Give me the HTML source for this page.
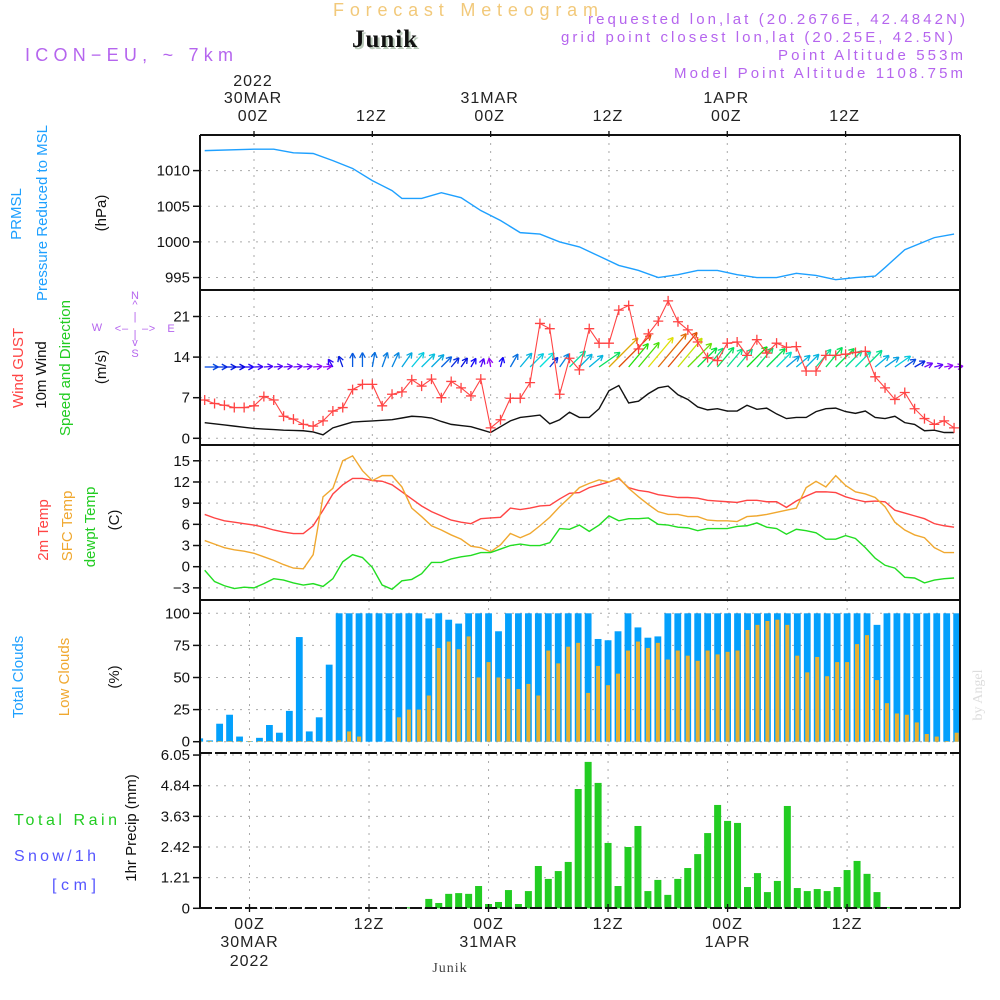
<!DOCTYPE html>
<html><head><meta charset="utf-8"><title>Forecast Meteogram - Junik</title>
<style>
html,body{margin:0;padding:0;background:#fff;width:1000px;height:1000px;overflow:hidden}
svg{display:block}
text{font-family:"Liberation Sans",sans-serif}
.tick{font-size:15px;fill:#111;text-anchor:end}
.tl{font-size:16px;fill:#222;text-anchor:middle;letter-spacing:1px}
.grid{stroke:#aaa;stroke-width:1;stroke-dasharray:2,6}
</style></head>
<body>
<svg id="chart" width="1000" height="1000" viewBox="0 0 1000 1000" xmlns="http://www.w3.org/2000/svg">
<!-- header -->
<text x="333" y="16" font-size="18" fill="#f2c97a" textLength="265" lengthAdjust="spacing">Forecast Meteogram</text>
<text x="354" y="49" font-size="25" font-weight="bold" fill="#b9c9b9" style="font-family:'Liberation Serif',serif" letter-spacing="1">Junik</text>
<text x="352" y="47" font-size="25" font-weight="bold" fill="#111" style="font-family:'Liberation Serif',serif" letter-spacing="1">Junik</text>
<text x="25" y="61" font-size="18" fill="#b565ee" textLength="208" lengthAdjust="spacing">ICON−EU, ~ 7km</text>
<text x="965" y="24" font-size="15" fill="#b565ee" text-anchor="end" textLength="377" lengthAdjust="spacing">requested lon,lat (20.2676E, 42.4842N)</text>
<text x="953" y="42" font-size="15" fill="#b565ee" text-anchor="end" textLength="392" lengthAdjust="spacing">grid point closest lon,lat (20.25E, 42.5N)</text>
<text x="963" y="60" font-size="15" fill="#b565ee" text-anchor="end" textLength="185" lengthAdjust="spacing">Point Altitude 553m</text>
<text x="963" y="78" font-size="15" fill="#b565ee" text-anchor="end" textLength="289" lengthAdjust="spacing">Model Point Altitude 1108.75m</text>

<!-- left labels -->
<g font-size="15">
<text transform="translate(21,214) rotate(-90)" text-anchor="middle" fill="#1ea0ff">PRMSL</text>
<text transform="translate(47,213) rotate(-90)" text-anchor="middle" fill="#1ea0ff">Pressure  Reduced to MSL</text>
<text transform="translate(106,213) rotate(-90)" text-anchor="middle" fill="#111">(hPa)</text>
<text transform="translate(23,368) rotate(-90)" text-anchor="middle" fill="#ff4444">Wind GUST</text>
<text transform="translate(46,375) rotate(-90)" text-anchor="middle" fill="#111">10m Wind</text>
<text transform="translate(70,368) rotate(-90)" text-anchor="middle" fill="#22cc22">Speed and Direction</text>
<text transform="translate(106,367) rotate(-90)" text-anchor="middle" fill="#111">(m/s)</text>
<text transform="translate(48,530) rotate(-90)" text-anchor="middle" fill="#ff4444">2m Temp</text>
<text transform="translate(72,526) rotate(-90)" text-anchor="middle" fill="#f0a830">SFC Temp</text>
<text transform="translate(95,527) rotate(-90)" text-anchor="middle" fill="#22cc22">dewpt Temp</text>
<text transform="translate(119,520) rotate(-90)" text-anchor="middle" fill="#111">(C)</text>
<text transform="translate(23,677) rotate(-90)" text-anchor="middle" fill="#1ea0ff">Total Clouds</text>
<text transform="translate(69,677) rotate(-90)" text-anchor="middle" fill="#f0a830">Low Clouds</text>
<text transform="translate(119,677) rotate(-90)" text-anchor="middle" fill="#111">(%)</text>
<text transform="translate(136,828) rotate(-90)" text-anchor="middle" fill="#111">1hr Precip (mm)</text>
</g>
<text x="14" y="825" font-size="16" fill="#22cc22" textLength="103" lengthAdjust="spacing">Total  Rain</text>
<text x="14" y="861" font-size="16" fill="#5555ff" textLength="82" lengthAdjust="spacing">Snow/1h</text>
<text x="52" y="890" font-size="16" fill="#5555ff" textLength="44" lengthAdjust="spacing">[cm]</text>
<!-- compass -->
<g fill="#b565ee" font-size="11" text-anchor="middle">
<text x="135" y="299">N</text><text x="135" y="308">^</text>
<text x="135" y="320">|</text><text x="135" y="338">|</text>
<text x="118" y="332">&lt;</text><text x="125" y="332">–</text><text x="145" y="332">–</text><text x="152" y="332">&gt;</text>
<text x="97" y="331">W</text><text x="171" y="332">E</text>
<text x="135" y="346">v</text><text x="135" y="357">S</text>
</g>
<text transform="translate(982,695) rotate(-90)" font-size="14" fill="#ddd" text-anchor="middle" style="font-family:'Liberation Serif',serif">by Angel</text>
<text x="450" y="972" font-size="14" fill="#444" text-anchor="middle" style="font-family:'Liberation Serif',serif" letter-spacing="1">Junik</text>

<g id="layer"></g>
</svg>
<script>
// ---------- data ----------
const pressHours = [-5,0,2,4,6,8,10,12,14,15,17,19,21,23,25,27,29,31,33,35,37,39,41,43,45,47,49,51,53,55,57,59,61,63,64,66,69,71];
const pressure = [1012.8,1013,1013,1012.5,1012.4,1011.4,1010.3,1008.6,1007.2,1006.1,1006.1,1006.9,1006.2,1004.4,1003,1001.3,1001.1,1000,999.3,998,996.7,996,995,995.4,996,996,995.4,995,995,995.6,995.3,994.7,995,995.2,996.4,998.9,1000.6,1001.1];
const pressTicks = [1010,1005,1000,995];
const gust = [6.6,6.0,5.7,5.3,5.3,5.6,7.2,6.6,3.8,3.3,2.4,2.1,3.0,4.7,5.3,8.4,9.3,9.3,5.6,7.6,8.0,10.1,9.0,10.2,7.0,9.8,8.7,7.3,10.2,1.8,3.2,6.9,6.9,9.6,19.8,18.9,7.6,13.8,11.8,18.9,16.4,16.4,22.1,22.9,15.4,18.0,20.2,23.7,20.1,18.7,16.6,13.9,13.4,16.4,16.6,14.3,17.0,14.7,16.4,15.7,15.8,11.6,11.6,14.3,14.3,14.5,14.8,15.0,10.6,8.7,6.7,7.9,5.1,3.4,2.4,3.0,1.8];
const windSpeed = [2.7,2.5,2.3,2.1,1.9,1.7,1.6,1.5,1.4,1.35,1.3,1.1,0.6,1.8,2.3,2.8,2.9,3.0,3.1,3.2,3.5,3.8,3.7,3.5,2.9,2.4,2.2,2.0,1.5,1.0,2.0,3.0,3.6,3.8,4.0,2.5,3.2,4.5,3.6,3.6,5.1,8.2,9.1,6.1,6.4,7.7,8.7,9.0,7.5,6.7,5.4,4.9,5.1,4.7,4.7,5.7,5.0,5.2,4.2,3.4,3.6,3.6,4.6,5.1,5.2,4.6,4.3,4.7,3.6,3.4,3.8,2.7,2.4,1.3,1.4,1.0,1.0];
const windDir = [90,90,90,90,90,88,86,85,85,85,85,85,85,330,340,0,0,10,20,25,35,40,45,45,45,40,35,30,20,350,15,30,40,45,45,40,35,45,45,50,55,45,45,40,40,40,40,40,40,45,45,40,40,40,40,45,40,45,45,50,50,45,40,40,45,45,45,45,50,55,55,55,60,65,75,80,85];
const windTicks = [0,7,14,21];
const temp2m = [7.4,6.9,6.5,6.3,6.1,5.9,5.6,5.2,4.9,4.7,4.7,5.8,8.0,10.3,11.6,12.5,12.5,12.2,12.1,11.6,10.6,9.6,8.6,7.8,7.2,6.6,6.3,6.1,6.8,6.9,7.0,8.3,8.1,8.3,8.6,8.7,9.6,10.4,10.5,11.2,11.6,12.0,12.5,11.2,10.8,10.6,10.2,10.0,9.8,9.8,9.7,9.4,9.3,9.2,9.1,9.4,9.4,9.2,9.2,8.4,9.3,10.0,10.6,10.6,10.5,9.9,9.5,9.2,9.3,9.2,8.0,7.6,7.2,6.8,6.1,5.8,5.6];
const sfcTemp = [3.7,3.2,2.7,2.4,2.2,1.9,1.4,0.9,0.3,-0.2,-0.3,1.7,9.9,11.1,15.0,15.7,13.6,12.2,12.9,12.9,11.3,8.3,7.1,5.8,5.2,4.5,3.9,2.9,2.7,2.1,3.1,4.7,4.1,4.7,5.8,7.0,8.5,9.8,11.2,11.8,12.3,12.0,12.6,11.1,9.9,8.8,7.8,7.4,7.4,7.1,7.1,6.6,6.5,6.5,6.4,7.1,7.2,7.4,7.7,8.0,8.3,11.2,12.1,11.3,12.9,11.5,10.6,10.3,9.8,8.5,6.3,5.2,4.5,4.1,2.7,2.0,2.0];
const dewpt = [-0.5,-2.1,-2.7,-3.1,-2.9,-3.0,-2.4,-1.7,-1.9,-2.3,-2.6,-2.4,-2.8,-1.7,0.7,1.7,1.3,-0.1,-2.6,-3.2,-2.0,-1.8,-1.0,0.6,0.6,1.1,1.4,1.6,2.0,2.0,2.5,3.0,3.2,3.0,3.0,3.4,5.4,5.3,5.9,5.0,5.9,7.2,6.5,6.8,6.8,6.9,6.0,5.9,5.6,5.5,5.1,5.4,5.4,5.4,5.7,5.8,6.2,5.6,5.4,4.6,5.3,5.1,4.8,3.9,3.9,4.4,4.0,2.7,1.2,0.2,-0.2,-1.5,-1.6,-2.3,-1.9,-1.7,-1.6];
const tempTicks = [-3,0,3,6,9,12,15];
const totalClouds = [2.6,1,14,21,4,0.5,3,13,7,24,81.5,8,19,60,100,100,100,100,100,100,100,100,100,96,100,95,92,100,100,100,86,100,100,100,100,100,100,100,100,100,80,79,86,100,89,81,82,100,100,100,100,100,100,100,100,100,100,100,100,100,100,100,100,100,100,100,100,100,91,100,100,100,100,100,100,100,100];
const lowClouds = [0.5,0.5,0.5,0.5,0.5,0.5,0.5,0.5,0.5,0.5,0.5,0.5,0.5,0.5,1,8,4,0,0,0,19,25,25,36,73,78,72,82,50,62,50,49,41,45,36,71,61,74,77,38,59,44,53,71,78,73,77,64,71,67,63,71,68,70,71,87,91,94,95,91,67,54,66,51,62,62,76,83,48,30,22,21,15,6,4,0.5,7];
const cloudTicks = [0,25,50,75,100];
const precip = [0,0,0,0,0,0,0,0,0,0,0,0,0,0,0,0,0,0,0,0,0,0.04,0,0.37,0.21,0.57,0.6,0.57,0.88,0.17,0.25,0.72,0.17,0.68,1.67,1.16,1.47,1.83,4.71,5.78,4.95,2.58,0.88,2.42,3.25,0.68,1.12,0.53,1.16,1.59,2.14,2.97,4.08,3.45,3.37,0.84,1.39,0.64,1.08,4.04,0.8,0.68,0.76,0.68,0.84,1.51,1.87,1.36,0.64,0.05,0,0,0,0,0,0,0];
const precipTicks = [0,1.21,2.42,3.63,4.84,6.05];
const topLabels = [["00Z","30MAR","2022"],["12Z"],["00Z","31MAR"],["12Z"],["00Z","1APR"],["12Z"]];
const startHour = -5;

// ---------- scales ----------
const NS = "http://www.w3.org/2000/svg";
const layer = document.getElementById('layer');
const L = 200, R = 960;
const xu = h => 254 + 9.86 * h;      // upper panels
const xl = h => 249.5 + 9.96 * h;    // lower panels
const yP = v => 170.6 + (1010 - v) * 7.13;
const yW = v => 438.3 - v * 5.8;
const yT = v => 566.7 - v * 7.06;
const yC = v => 741.7 - v * 1.284;
const yR = v => 908.3 - v * 25.33;
const panels = [
  {name:'pressure-panel', top:135, bot:290, x:xu, y:yP, ticks:pressTicks, fmt:v=>String(v)},
  {name:'wind-panel', top:290, bot:445, x:xu, y:yW, ticks:windTicks, fmt:v=>String(v)},
  {name:'temperature-panel', top:445, bot:600, x:xu, y:yT, ticks:tempTicks, fmt:v=>v<0?'−'+(-v):String(v)},
  {name:'clouds-panel', top:600, bot:753, x:xl, y:yC, ticks:cloudTicks, fmt:v=>String(v)},
  {name:'precip-panel', top:753, bot:908, x:xl, y:yR, ticks:precipTicks, fmt:v=>v===0?'0':v.toFixed(2)}
];
function mk(tag, attrs, parent){
  const e = document.createElementNS(NS, tag);
  for (const k in attrs) e.setAttribute(k, attrs[k]);
  (parent||layer).appendChild(e);
  return e;
}
const hoursOf = arr => arr.map((_, i) => startHour + i);

// grid, ticks, borders
panels.forEach((p, pi) => {
  const g = mk('g', {});
  
  
  for (let h = 0; h <= 60; h += 12) {
    const gl = mk('line', {x1:p.x(h), x2:p.x(h), y1:p.top, y2:p.bot, class:'grid'}, g);
    
    
  }
  p.ticks.forEach(v => {
    const y = p.y(v);
    const hl = mk('line', {x1:L, x2:R, y1:y, y2:y, class:'grid'}, g);
    
    
    mk('line', {x1:193, x2:L, y1:y, y2:y, stroke:'#111', 'stroke-width':1.5}, g);
    const t = mk('text', {x:190, y:y+5, class:'tick'}, g);
    
    
    t.textContent = p.fmt(v);
  });
  p.g = g;
});

// ---------- pressure ----------
{
  const pts = pressHours.map((h, i) => xu(h) + ',' + yP(pressure[i])).join(' ');
  const pl = mk('polyline', {points:pts, fill:'none', stroke:'#1ea0ff', 'stroke-width':1.4});
  
  
}
// ---------- wind ----------
function windColor(s){
  const hue = Math.max(20, Math.min(275, 275 - (s - 1) * 32));
  return 'hsl(' + hue + ',95%,' + (hue > 240 ? 50 : 45) + '%)';
}
{
  const hrs = hoursOf(windSpeed);
  const gArrows = mk('g', {});
  
  
  hrs.forEach((h, i) => {
    const s = windSpeed[i], d = windDir[i] * Math.PI / 180;
    const len = Math.max(9, 5 * s);
    const x0 = xu(h), y0 = 367;
    const x1 = x0 + Math.sin(d) * len, y1 = y0 - Math.cos(d) * len;
    const c = windColor(s);
    const a = mk('g', {stroke:c, 'stroke-width':1.3, fill:'none'}, gArrows);
    
    
    mk('line', {x1:x0, y1:y0, x2:x1, y2:y1}, a);
    const hl = 6, ang = Math.atan2(y1 - y0, x1 - x0);
    [0.5, -0.5].forEach(o => {
      mk('line', {x1:x1, y1:y1, x2:x1 - hl * Math.cos(ang + o), y2:y1 - hl * Math.sin(ang + o)}, a);
    });
  });
  const mpts = hrs.map((h, i) => xu(h) + ',' + yW(windSpeed[i])).join(' ');
  const ml = mk('polyline', {points:mpts, fill:'none', stroke:'#111', 'stroke-width':1.4});
  
  
  const gh = hoursOf(gust);
  const gpts = gh.map((h, i) => xu(h) + ',' + yW(gust[i])).join(' ');
  const gl = mk('polyline', {points:gpts, fill:'none', stroke:'#ff4444', 'stroke-width':1.1});
  
  
  gh.forEach((h, i) => {
    const x = xu(h), y = yW(gust[i]);
    const m = mk('path', {d:'M' + (x-5) + ' ' + y + 'H' + (x+5) + 'M' + x + ' ' + (y-5) + 'V' + (y+5), stroke:'#ff4444', 'stroke-width':1.3});
    
    
  });
}
// ---------- temperature ----------
[[temp2m,'#ff4444','temp-2m-line'],[sfcTemp,'#f0a830','sfc-temp-line'],[dewpt,'#22dd22','dewpoint-line']].forEach(([arr, col, nm]) => {
  const pts = hoursOf(arr).map((h, i) => xu(h) + ',' + yT(arr[i])).join(' ');
  const pl = mk('polyline', {points:pts, fill:'none', stroke:col, 'stroke-width':1.4});
  
  
});
// ---------- clouds ----------
hoursOf(totalClouds).forEach((h, i) => {
  const x = xl(h), y0 = yC(0);
  const xa = Math.max(L + 1, x - 3.4), xb = Math.min(R - 1, x + 3.4);
  if (xb > xa) {
    const b = mk('rect', {x:xa, y:yC(totalClouds[i]), width:xb - xa, height:y0 - yC(totalClouds[i]), fill:'#03a0fc'});
    
    
  }
  const xa2 = Math.max(L + 1, x - 2), xb2 = Math.min(R - 1, x + 2);
  if (xb2 > xa2) {
    const b2 = mk('rect', {x:xa2, y:yC(lowClouds[i]), width:xb2 - xa2, height:y0 - yC(lowClouds[i]), fill:'#e8b030'});
    
    
  }
});
// ---------- precip ----------
hoursOf(precip).forEach((h, i) => {
  if (precip[i] <= 0) return;
  const x = xl(h);
  const b = mk('rect', {x:x - 3.5, y:yR(precip[i]), width:7, height:yR(0) - yR(precip[i]), fill:'#22cc22'});
  
  
});
// ---------- borders ----------
panels.forEach((p, pi) => {
  mk('line', {x1:L, x2:L, y1:p.top, y2:p.bot, stroke:'#111', 'stroke-width':2});
  mk('line', {x1:R, x2:R, y1:p.top, y2:p.bot, stroke:'#111', 'stroke-width':2});
  mk('line', {x1:L, x2:R, y1:p.top, y2:p.top, stroke:'#111', 'stroke-width':2, 'stroke-dasharray': pi === 4 ? '12,3' : 'none'});
});
mk('line', {x1:L, x2:R, y1:908, y2:908, stroke:'#111', 'stroke-width':2, 'stroke-dasharray':'12,3'});
// time axis labels
topLabels.forEach((lab, k) => {
  const h = k * 12;
  mk('line', {x1:xu(h), x2:xu(h), y1:131, y2:137, stroke:'#111', 'stroke-width':1.3});
  mk('line', {x1:xl(h), x2:xl(h), y1:904, y2:912, stroke:'#111', 'stroke-width':1.3});
  const topYs = [121, 103, 86];
  lab.forEach((s, j) => {
    const t = mk('text', {x:xu(h) - 1, y:topYs[j], class:'tl'});
    
    
    t.textContent = s;
  });
  const botYs = [929, 947, 966];
  lab.forEach((s, j) => {
    const t = mk('text', {x:xl(h), y:botYs[j], class:'tl'});
    
    
    t.textContent = s;
  });
});
</script>
</body></html>
